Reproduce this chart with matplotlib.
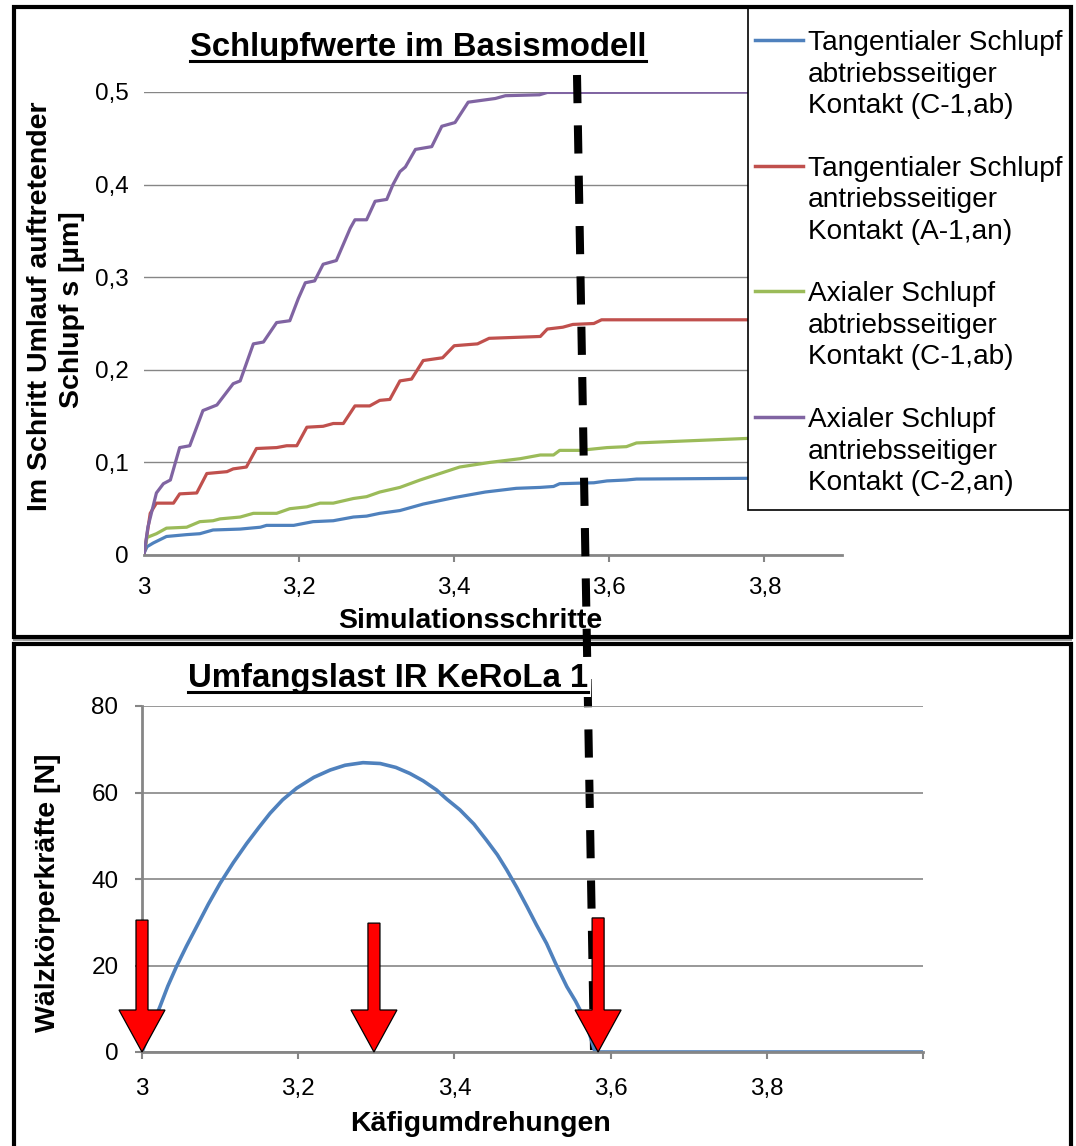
import matplotlib
matplotlib.use("Agg")
import matplotlib.pyplot as plt
from matplotlib.lines import Line2D
from matplotlib.patches import Rectangle, Polygon

plt.rcParams['font.family'] = ['Liberation Sans', 'DejaVu Sans']

# ---------------- data: top chart (slip values) ----------------
tan_ab_x = [3.0, 3.004, 3.012, 3.029, 3.055, 3.072, 3.089, 3.124, 3.150, 3.158, 3.193, 3.218, 3.244,
            3.270, 3.287, 3.304, 3.330, 3.36, 3.40, 3.44, 3.48, 3.511, 3.528, 3.536, 3.58, 3.597,
            3.622, 3.635, 3.81, 3.9]
tan_ab_y = [0.002, 0.009, 0.013, 0.020, 0.022, 0.023, 0.027, 0.028, 0.030, 0.032, 0.032, 0.036, 0.037,
            0.041, 0.042, 0.045, 0.048, 0.055, 0.062, 0.068, 0.072, 0.073, 0.074, 0.077, 0.078, 0.080,
            0.081, 0.082, 0.083, 0.084]

tan_an_x = [3.0, 3.008, 3.016, 3.038, 3.046, 3.068, 3.081, 3.107, 3.115, 3.132, 3.145, 3.171, 3.184,
            3.197, 3.210, 3.231, 3.244, 3.257, 3.272, 3.291, 3.304, 3.317, 3.330, 3.345, 3.36, 3.385,
            3.40, 3.43, 3.445, 3.511, 3.52, 3.54, 3.553, 3.58, 3.59, 3.9]
tan_an_y = [0.0, 0.045, 0.056, 0.056, 0.066, 0.067, 0.088, 0.090, 0.093, 0.095, 0.115, 0.116, 0.118,
            0.118, 0.138, 0.139, 0.142, 0.142, 0.161, 0.161, 0.167, 0.168, 0.188, 0.190, 0.210, 0.213,
            0.226, 0.228, 0.234, 0.236, 0.244, 0.246, 0.249, 0.250, 0.254, 0.254]

ax_ab_x = [3.0, 3.004, 3.016, 3.029, 3.055, 3.072, 3.089, 3.098, 3.124, 3.141, 3.171, 3.188, 3.210,
           3.227, 3.244, 3.270, 3.287, 3.304, 3.330, 3.356, 3.407, 3.446, 3.485, 3.511, 3.528, 3.536,
           3.562, 3.597, 3.622, 3.635, 3.81, 3.9]
ax_ab_y = [0.003, 0.019, 0.023, 0.029, 0.030, 0.036, 0.037, 0.039, 0.041, 0.045, 0.045, 0.050, 0.052,
           0.056, 0.056, 0.061, 0.063, 0.068, 0.073, 0.081, 0.095, 0.100, 0.104, 0.108, 0.108, 0.113,
           0.113, 0.116, 0.117, 0.121, 0.127, 0.128]

ax_an_x = [3.0, 3.005, 3.016, 3.025, 3.034, 3.046, 3.059, 3.076, 3.094, 3.115, 3.124, 3.141, 3.154,
           3.171, 3.188, 3.199, 3.208, 3.220, 3.231, 3.248, 3.266, 3.272, 3.287, 3.298, 3.313, 3.321,
           3.330, 3.337, 3.35, 3.371, 3.384, 3.401, 3.418, 3.453, 3.466, 3.51, 3.52, 3.9]
ax_an_y = [0.0, 0.030, 0.067, 0.077, 0.081, 0.116, 0.118, 0.156, 0.162, 0.185, 0.188, 0.228, 0.230,
           0.251, 0.253, 0.277, 0.294, 0.296, 0.314, 0.318, 0.353, 0.362, 0.362, 0.382, 0.384, 0.400,
           0.414, 0.419, 0.438, 0.441, 0.463, 0.467, 0.489, 0.493, 0.496, 0.497, 0.4995, 0.5]

legend_labels = ["Tangentialer Schlupf\nabtriebsseitiger\nKontakt (C-1,ab)",
                 "Tangentialer Schlupf\nantriebsseitiger\nKontakt (A-1,an)",
                 "Axialer Schlupf\nabtriebsseitiger\nKontakt (C-1,ab)",
                 "Axialer Schlupf\nantriebsseitiger\nKontakt (C-2,an)"]
colors = ['#4F81BD', '#C0504D', '#9BBB59', '#8064A2']

top_xticks = [3.0, 3.2, 3.4, 3.6, 3.8]
top_xlabels = ['3', '3,2', '3,4', '3,6', '3,8']
top_yticks = [0, 0.1, 0.2, 0.3, 0.4, 0.5]
top_ylabels = ['0', '0,1', '0,2', '0,3', '0,4', '0,5']

# ---------------- data: bottom chart (load) ----------------
load_x = [3.0, 3.011, 3.023, 3.033, 3.044, 3.057, 3.070, 3.085, 3.100, 3.117, 3.134, 3.150, 3.164,
          3.180, 3.198, 3.220, 3.241, 3.260, 3.283, 3.305, 3.325, 3.343, 3.360, 3.377, 3.390,
          3.407, 3.425, 3.441, 3.455, 3.467, 3.480, 3.493, 3.505, 3.518, 3.530, 3.544, 3.555,
          3.563, 3.572, 3.580, 4.0]
load_y = [0, 5.2, 10.5, 15.2, 19.7, 24.5, 29.0, 34.2, 39.0, 43.8, 48.2, 52.0, 55.2,
          58.3, 61.0, 63.5, 65.2, 66.3, 66.9, 66.7, 65.8, 64.4, 62.7, 60.6, 58.5,
          56.0, 52.7, 49.0, 45.6, 42.1, 38.0, 33.6, 29.4, 25.1, 20.3, 15.1, 11.8,
          9.0, 4.8, 0, 0]
bot_xticks = [3.0, 3.2, 3.4, 3.6, 3.8]
bot_xlabels = ['3', '3,2', '3,4', '3,6', '3,8']
bot_yticks = [0, 20, 40, 60, 80]
arrow_x = [3.0, 3.297, 3.584]
arrow_top = [30.5, 29.8, 31.0]

W, H = 1076, 1146
def fx(px):
    return px / W
def fy(py):
    return 1 - py / H

fig = plt.figure(figsize=(W / 100, H / 100), dpi=100)
GRAY = '#868686'
TICK_FS = 17.5

# ---------------- top axes ----------------
ax1 = fig.add_axes([fx(144), fy(555), 698 / W, 463 / H], zorder=0)
for xs, ys, c in zip([tan_ab_x, tan_an_x, ax_ab_x, ax_an_x], [tan_ab_y, tan_an_y, ax_ab_y, ax_an_y], colors):
    ax1.plot(xs, ys, color=c, lw=2.3, solid_joinstyle='round')
ax1.set_xlim(3.0, 3.9)
ax1.set_ylim(0, 0.5)
ax1.set_xticks(top_xticks, top_xlabels)
ax1.set_xticks([3.2, 3.4, 3.6, 3.8], minor=True)
ax1.xaxis.remove_overlapping_locs = False
ax1.set_yticks(top_yticks, top_ylabels)
ax1.tick_params(axis='x', which='major', length=0, pad=16, labelsize=TICK_FS)
ax1.tick_params(axis='x', which='minor', length=5, width=1.5, color=GRAY, direction='out')
ax1.tick_params(axis='y', length=0, pad=11, labelsize=TICK_FS)
ax1.grid(axis='y', color=GRAY, lw=1)
ax1.set_axisbelow(True)
for s in ['left', 'top', 'right']:
    ax1.spines[s].set_visible(False)
ax1.spines['bottom'].set_color(GRAY)
ax1.spines['bottom'].set_linewidth(2)

# ---------------- bottom axes ----------------
ax2 = fig.add_axes([fx(142), fy(1052), 781 / W, 346 / H], zorder=3)
ax2.patch.set_facecolor('none')
ax2.plot(load_x, load_y, color=colors[0], lw=2.6, solid_joinstyle='round')
ax2.set_xlim(3.0, 4.0)
ax2.set_ylim(0, 80)
ax2.set_xticks(bot_xticks, bot_xlabels)
ax2.set_xticks([3.0, 3.2, 3.4, 3.6, 3.8, 4.0], minor=True)
ax2.xaxis.remove_overlapping_locs = False
ax2.set_yticks(bot_yticks, [str(v) for v in bot_yticks])
ax2.tick_params(axis='x', which='major', length=0, pad=19, labelsize=TICK_FS)
ax2.tick_params(axis='x', which='minor', length=5, width=1.5, color=GRAY, direction='out')
ax2.tick_params(axis='y', length=5, width=1.5, color=GRAY, pad=12, labelsize=TICK_FS)
ax2.grid(axis='y', color=GRAY, lw=1.2)
ax2.set_axisbelow(True)
for s in ['top', 'right']:
    ax2.spines[s].set_visible(False)
for s in ['left', 'bottom']:
    ax2.spines[s].set_color(GRAY)
    ax2.spines[s].set_linewidth(2)

# red arrows (shaft/head sizes in pixels converted to data units)
sx = 6 / 781.0
hx = 23 / 781.0
hl = 42 / 346.0 * 80
for xa, ta in zip(arrow_x, arrow_top):
    verts = [(xa - sx, ta), (xa + sx, ta), (xa + sx, hl), (xa + hx, hl), (xa, 0),
             (xa - hx, hl), (xa - sx, hl)]
    ax2.add_patch(Polygon(verts, closed=True, fc='#FF0000', ec='black', lw=0.9,
                          clip_on=False, zorder=5))

# ---------------- panel borders ----------------
fig.patches.append(Rectangle((fx(14), fy(637)), (1071 - 14) / W, (637 - 7) / H,
                             transform=fig.transFigure, fill=False, ec='black', lw=3, zorder=2))
fig.patches.append(Rectangle((fx(14), fy(1170)), (1071 - 14) / W, (1170 - 643.5) / H,
                             transform=fig.transFigure, fill=False, ec='black', lw=3, zorder=2,
                             clip_on=False))
fig.lines.append(Line2D([fx(14), fx(1071)], [fy(640), fy(640)], transform=fig.transFigure,
                        color='#A0A0A0', lw=1.5, zorder=2))

# ---------------- legend (drawn manually to match layout) ----------------
fig.patches.append(Rectangle((fx(748), fy(510)), (1071 - 748) / W, (510 - 8) / H,
                             transform=fig.transFigure, fc='white', ec='black', lw=1.2, zorder=1))
for i, (lab, c) in enumerate(zip(legend_labels, colors)):
    base = 50 + i * 125.7
    fig.lines.append(Line2D([fx(755), fx(803)], [fy(base - 10)] * 2, transform=fig.transFigure,
                            color=c, lw=2.5, zorder=1.5))
    for j, line in enumerate(lab.split('\n')):
        fig.text(fx(808), fy(base + j * 31.5), line, fontsize=20.2, va='baseline', ha='left',
                 zorder=1.5)

# ---------------- dashed marker line ----------------
fig.lines.append(Line2D([fx(577), fx(594)], [fy(75), fy(1050)], transform=fig.transFigure,
                        color='black', lw=5.8, dashes=(3.5, 2.75), zorder=2.5))

# ---------------- titles and axis labels ----------------
t1 = fig.text(fx(418), fy(56), 'Schlupfwerte im Basismodell', fontsize=23.7, fontweight='bold',
              ha='center', va='baseline', zorder=4,
              bbox=dict(fc='white', ec='none', pad=2))
t2 = fig.text(fx(388), fy(687), 'Umfangslast IR KeRoLa 1', fontsize=23.7, fontweight='bold',
              ha='center', va='baseline', zorder=4,
              bbox=dict(fc='white', ec='none', pad=2))
fig.text(fx(470), fy(628), 'Simulationsschritte', fontsize=20.5, fontweight='bold',
         ha='center', va='baseline', zorder=3)
fig.text(fx(480), fy(1131), 'Käfigumdrehungen', fontsize=20.5, fontweight='bold',
         ha='center', va='baseline', zorder=3)
fig.text(fx(47), fy(306), 'Im Schritt Umlauf auftretender', fontsize=20.5, fontweight='bold',
         ha='center', va='baseline', rotation=90, rotation_mode='anchor', zorder=3)
fig.text(fx(79), fy(310), 'Schlupf s [µm]', fontsize=20.5, fontweight='bold',
         ha='center', va='baseline', rotation=90, rotation_mode='anchor', zorder=3)
fig.text(fx(55), fy(893), 'Wälzkörperkräfte [N]', fontsize=20.5, fontweight='bold',
         ha='center', va='baseline', rotation=90, rotation_mode='anchor', zorder=3)

# underline the titles
renderer = fig.canvas.get_renderer()
for t, base in [(t1, 56), (t2, 687)]:
    bb = t.get_window_extent(renderer=renderer)
    fig.lines.append(Line2D([bb.x0 / W, bb.x1 / W], [fy(base + 5)] * 2, transform=fig.transFigure,
                            color='black', lw=2.2, zorder=4.5))

fig.savefig('out.png', dpi=100)
